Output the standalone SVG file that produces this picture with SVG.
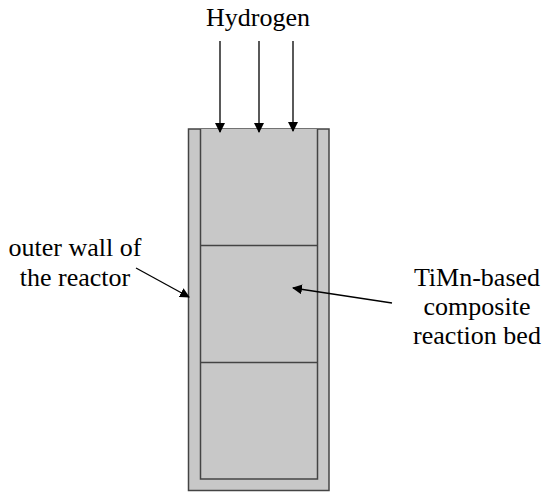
<svg xmlns="http://www.w3.org/2000/svg" width="550" height="499" viewBox="0 0 550 499">
<style>
.t{font-family:"Liberation Serif","Times New Roman","DejaVu Serif",serif;font-size:26px;fill:#000}
.w{fill:#c8c8c8;stroke:#444;stroke-width:1.5}
.c{stroke:#000;stroke-width:1.3;fill:none;marker-end:url(#ah)}
</style>
<defs>
<marker id="ah" markerWidth="10" markerHeight="10" refX="9" refY="5" orient="auto" markerUnits="userSpaceOnUse" viewBox="0 0 10 10">
<path d="M0,0 L10,5 L0,10 z" fill="#000"/>
</marker>
</defs>
<rect width="550" height="499" fill="#fff"/>
<g id="reactor">
<rect class="w" x="188.5" y="129" width="140.5" height="361.5"/>
<path d="M200.5,129 V479 H317.5 V129" class="w"/>
<line x1="200.5" y1="245.5" x2="317.5" y2="245.5" stroke="#444" stroke-width="1.5"/>
<line x1="200.5" y1="362.5" x2="317.5" y2="362.5" stroke="#444" stroke-width="1.5"/>
</g>
<g id="hydrogen"><text class="t" x="258" y="26" text-anchor="middle">Hydrogen</text></g>
<g id="outer-wall"><text class="t" x="75" y="256" text-anchor="middle">outer wall of</text><text class="t" x="75" y="286" text-anchor="middle">the reactor</text></g>
<g id="bed-label"><text class="t" x="477" y="286" text-anchor="middle">TiMn-based</text><text class="t" x="477" y="315" text-anchor="middle">composite</text><text class="t" x="477" y="344" text-anchor="middle">reaction bed</text></g>
<g id="connectors">
<line class="c" x1="220" y1="41" x2="220" y2="132"/>
<line class="c" x1="259" y1="41" x2="259" y2="132"/>
<line class="c" x1="293" y1="41" x2="293" y2="131"/>
<line class="c" x1="136" y1="268" x2="189" y2="297"/>
<line class="c" x1="392" y1="303" x2="293" y2="288"/>
</g>
</svg>
